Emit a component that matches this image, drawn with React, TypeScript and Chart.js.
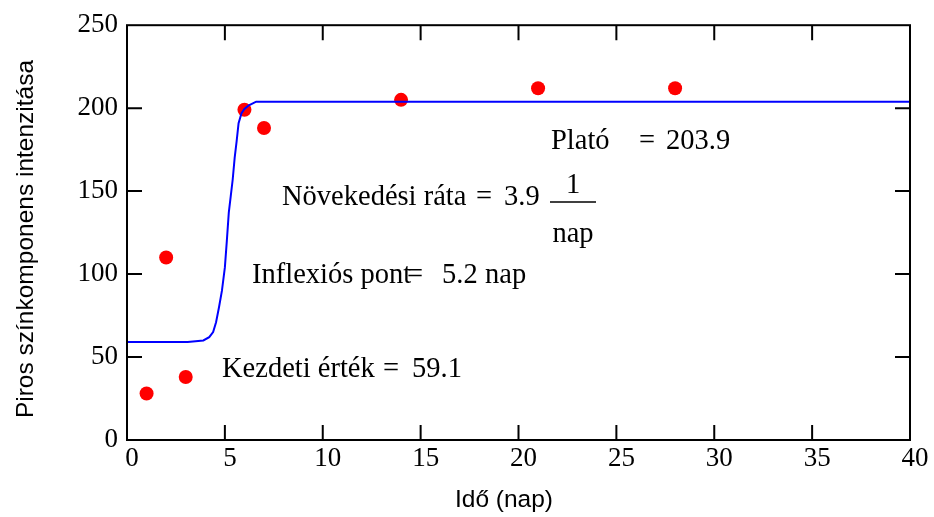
import React, { useEffect, useRef } from "react";
import { Chart, registerables } from "chart.js";

Chart.register(...registerables);

// Measured data (day, intensity)
const dayValues = [1, 2, 3, 6, 7, 14, 21, 28];
const intensityValues = [28, 110, 38, 199, 188, 205, 212, 212];

// Fitted curve
const curveX = [0, 3.1, 3.9, 4.2, 4.4, 4.55, 4.7, 4.85, 5.0, 5.1, 5.2, 5.3, 5.4, 5.5, 5.6, 5.7, 5.85, 6.0, 6.2, 6.6, 40];
const curveY = [59.1, 59.1, 60, 62, 65, 71, 80, 90, 104, 120, 137, 147, 157, 170, 180, 191, 197, 199.5, 201.5, 203.9, 203.9];

const xTitle = "Idő (nap)";
const yTitle = "Piros színkomponens intenzitása";

const platoLabel = "Plató";
const platoValue = "203.9";
const rateLabel = "Növekedési ráta";
const rateValue = "3.9";
const rateNum = "1";
const rateDen = "nap";
const inflLabel = "Inflexiós pont";
const inflValue = "5.2";
const inflUnit = "nap";
const startLabel = "Kezdeti érték";
const startValue = "59.1";

const SERIF = "28.5px 'Liberation Serif', 'Times New Roman', serif";
const SANS = "24.5px 'Liberation Sans', Arial, sans-serif";

const framePlugin = {
  id: "frame",
  afterDraw(chart: any) {
    const ctx = chart.ctx;
    const { left, right, top, bottom } = chart.chartArea;
    const xs = chart.scales.x;
    const ys = chart.scales.y;
    const tl = 15;
    ctx.save();
    ctx.strokeStyle = "#000";
    ctx.lineWidth = 2;
    ctx.strokeRect(left, top, right - left, bottom - top);
    ctx.beginPath();
    for (let v = 5; v < 40; v += 5) {
      const px = xs.getPixelForValue(v);
      ctx.moveTo(px, bottom);
      ctx.lineTo(px, bottom - tl);
      ctx.moveTo(px, top);
      ctx.lineTo(px, top + tl);
    }
    for (let v = 50; v < 250; v += 50) {
      const py = ys.getPixelForValue(v);
      ctx.moveTo(left, py);
      ctx.lineTo(left + tl, py);
      ctx.moveTo(right, py);
      ctx.lineTo(right - tl, py);
    }
    ctx.stroke();

    // axis titles
    ctx.fillStyle = "#000";
    ctx.font = SANS;
    ctx.textAlign = "center";
    ctx.textBaseline = "alphabetic";
    ctx.fillText(xTitle, 504, 507);
    ctx.save();
    ctx.translate(33, 239);
    ctx.rotate(-Math.PI / 2);
    ctx.fillText(yTitle, 0, 0);
    ctx.restore();

    // annotations
    ctx.font = SERIF;
    ctx.textAlign = "left";
    ctx.fillText(platoLabel, 551, 149);
    ctx.fillText("=", 639, 149);
    ctx.fillText(platoValue, 666, 149);

    ctx.fillText(rateLabel, 282, 205);
    ctx.fillText("=", 476, 205);
    ctx.fillText(rateValue, 504, 205);
    ctx.textAlign = "center";
    ctx.fillText(rateNum, 573, 193);
    ctx.fillText(rateDen, 573, 242);
    ctx.textAlign = "left";
    ctx.lineWidth = 1.5;
    ctx.beginPath();
    ctx.moveTo(550, 202);
    ctx.lineTo(596, 202);
    ctx.stroke();

    ctx.fillText(inflLabel, 252, 283);
    ctx.fillText("=", 407, 283);
    ctx.fillText(inflValue, 442, 283);
    ctx.fillText(inflUnit, 485, 283);

    ctx.fillText(startLabel, 222, 377);
    ctx.fillText("=", 383, 377);
    ctx.fillText(startValue, 412, 377);
    ctx.restore();
  },
};

export default function App() {
  const ref = useRef<HTMLCanvasElement | null>(null);

  useEffect(() => {
    document.body.style.margin = "0";
    const canvas = ref.current;
    if (!canvas) return;
    const chart = new Chart(canvas, {
      type: "scatter",
      data: {
        datasets: [
          {
            label: "fit",
            type: "line",
            data: curveX.map((x, i) => ({ x, y: curveY[i] })),
            borderColor: "#0000ff",
            borderWidth: 2,
            pointRadius: 0,
            fill: false,
            tension: 0,
          } as any,
          {
            label: "data",
            data: dayValues.map((x, i) => ({ x, y: intensityValues[i] })),
            backgroundColor: "#ff0000",
            borderColor: "#ff0000",
            borderWidth: 0,
            pointRadius: 7,
          },
        ],
      },
      options: {
        animation: false,
        responsive: false,
        layout: { padding: { left: 0, right: 24, top: 19, bottom: 0 } },
        plugins: { legend: { display: false }, tooltip: { enabled: false } },
        scales: {
          x: {
            type: "linear",
            min: 0,
            max: 40,
            grid: { display: false, drawTicks: false },
            border: { display: false },
            ticks: {
              stepSize: 5,
              color: "#000",
              padding: 3,
              labelOffset: 5,
              font: { family: "'Liberation Serif', 'Times New Roman', serif", size: 27 },
            },
            afterFit(scale: any) {
              scale.height = 77;
            },
          },
          y: {
            type: "linear",
            min: 0,
            max: 250,
            grid: { display: false, drawTicks: false },
            border: { display: false },
            ticks: {
              stepSize: 50,
              color: "#000",
              padding: 9,
              font: { family: "'Liberation Serif', 'Times New Roman', serif", size: 27 },
            },
            afterFit(scale: any) {
              scale.width = 127;
            },
          },
        },
      },
      plugins: [framePlugin],
    });
    return () => chart.destroy();
  }, []);

  return (
    <div style={{ width: 934, height: 517 }}>
      <canvas ref={ref} width={934} height={517} />
    </div>
  );
}
